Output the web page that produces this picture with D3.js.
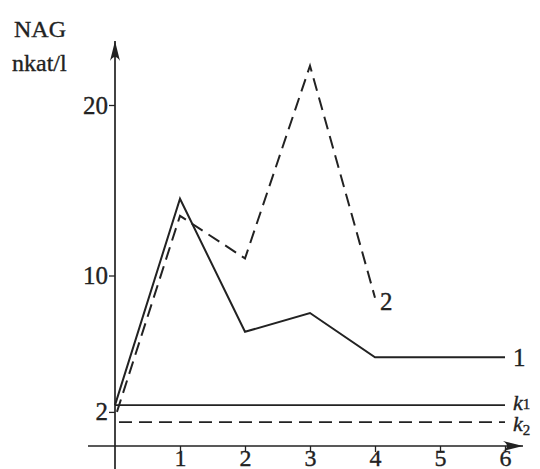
<!DOCTYPE html>
<html><head><meta charset="utf-8">
<script src="https://cdn.jsdelivr.net/npm/d3@7"></script>
<style>body{margin:0;background:#fff}svg{display:block}text{font-family:"Liberation Serif","DejaVu Serif",serif;fill:#222;stroke:#222;stroke-width:0.35px}</style>
</head><body><svg id="c" width="540" height="469"></svg>
<script>
const xTicks = [1, 2, 3, 4, 5, 6];
const yTicks = [2, 10, 20];
const series1X = [0, 1, 2, 3, 4, 6];
const series1Y = [2.4, 14.5, 6.7, 7.8, 5.2, 5.2];
const series2X = [0.03, 1, 2, 3, 4];
const series2Y = [2.0, 13.5, 11.0, 22.3, 8.7];
const k1Value = 2.4;
const k2Value = 1.4;
const yLabelLines = ["NAG", "nkat/l"];

const svg = d3.select("#c");
const x = d3.scaleLinear().domain([0, 6]).range([115, 505]);
const y = d3.scaleLinear().domain([0, 20]).range([446, 105]);
const ink = "#222";
const serifWide = "DejaVu Serif, serif";

svg.append("defs").append("marker").attr("id","arr").attr("viewBox","0 0 20 10")
  .attr("refX",20).attr("refY",5).attr("markerWidth",20).attr("markerHeight",10)
  .attr("markerUnits","userSpaceOnUse").attr("orient","auto")
  .append("path").attr("d","M0,0 Q8,5 0,10 L20,5 Z").attr("fill",ink);

svg.append("line").attr("x1",88).attr("x2",523).attr("y1",y(0)).attr("y2",y(0))
  .attr("stroke",ink).attr("stroke-width",1.7).attr("marker-end","url(#arr)");
svg.append("line").attr("x1",x(0)).attr("x2",x(0)).attr("y1",469).attr("y2",41)
  .attr("stroke",ink).attr("stroke-width",1.7).attr("marker-end","url(#arr)");

const xa = svg.append("g").attr("transform",`translate(0,${y(0)})`)
  .call(d3.axisBottom(x).tickValues(xTicks).tickSize(6).tickPadding(0).tickFormat(d3.format("d")));
xa.select(".domain").remove();
xa.selectAll("line").attr("stroke",ink).attr("stroke-width",1.3);
xa.selectAll("text").attr("font-size",24).attr("fill",ink).attr("font-family","Liberation Serif, serif")
  .attr("dy","0.6em");

const ya = svg.append("g").attr("transform",`translate(${x(0)},0)`)
  .call(d3.axisLeft(y).tickValues(yTicks).tickSize(6).tickPadding(1).tickFormat(d3.format("d")));
ya.select(".domain").remove();
ya.selectAll("line").attr("stroke",ink).attr("stroke-width",1.3);
ya.selectAll("text").attr("font-size",25).attr("fill",ink).attr("font-family","Liberation Serif, serif");

svg.append("g").selectAll("text").data(yLabelLines).join("text")
  .attr("x",(d,i)=>i===0?14:12).attr("y",(d,i)=>37+i*34).attr("font-size",24)
  .attr("font-family",serifWide).text(d=>d);

svg.append("line").attr("x1",x(0)).attr("x2",x(6)).attr("y1",y(k1Value)).attr("y2",y(k1Value))
  .attr("stroke",ink).attr("stroke-width",1.7);
svg.append("line").attr("x1",x(0)+4).attr("x2",x(6)).attr("y1",y(k2Value)).attr("y2",y(k2Value))
  .attr("stroke",ink).attr("stroke-width",1.7).attr("stroke-dasharray","13,7");

const line = d3.line().x(d=>x(d[0])).y(d=>y(d[1]));
svg.append("path").datum(d3.zip(series1X, series1Y)).attr("d",line)
  .attr("fill","none").attr("stroke",ink).attr("stroke-width",2).attr("stroke-linejoin","miter");
svg.append("path").datum(d3.zip(series2X, series2Y)).attr("d",line)
  .attr("fill","none").attr("stroke",ink).attr("stroke-width",2).attr("stroke-dasharray","13,7");

svg.append("text").attr("x",x(6)+8).attr("y",y(series1Y[5])+9).attr("font-size",25).text("1");
svg.append("text").attr("x",x(4)+5).attr("y",y(series2Y[4])+12).attr("font-size",25).text("2");

const k1 = svg.append("text").attr("x",x(6)+8).attr("y",y(k1Value)+5).attr("font-size",22);
k1.append("tspan").attr("font-style","italic").text("k");
k1.append("tspan").attr("font-size",15).attr("dy",-1).text("1");
const k2 = svg.append("text").attr("x",x(6)+8).attr("y",y(k2Value)+9).attr("font-size",22);
k2.append("tspan").attr("font-style","italic").text("k");
k2.append("tspan").attr("font-size",15).attr("dy",4).text("2");
</script></body></html>
